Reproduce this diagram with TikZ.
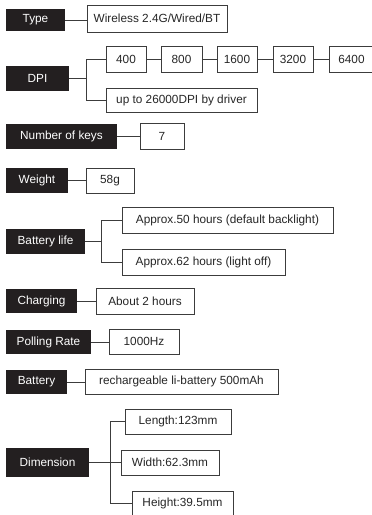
\documentclass[tikz,border=0pt]{standalone}
\usepackage{fontspec}
\setmainfont{Liberation Sans}
\usetikzlibrary{positioning,calc}
\definecolor{labelfill}{HTML}{231F20}
\definecolor{boxline}{HTML}{3C3C3C}

\begin{document}
\begin{tikzpicture}[x=1pt, y=-1pt, font=\fontsize{11.8}{13}\selectfont,
   spec/.style={fill=labelfill, text=white, inner sep=0pt, minimum height=25pt},
   val/.style={draw=boxline, line width=1pt, fill=white, text=black!85, inner sep=0pt, minimum height=25pt},
   link/.style={draw=boxline, line width=1pt}]
  \clip (0, 0) rectangle (372, 515);
  % type
  \node[spec, minimum width=59pt, minimum height=22pt] (type) at (35.5, 20) {Type};
  \node[val, minimum width=140pt, minimum height=27pt] (wls) at (157, 18.5) {Wireless 2.4G/Wired/BT};
  \draw[link] (type) -- (type -| wls.west);
  % dpi
  \node[spec, minimum width=63pt] (dpi) at (37.5, 78.5) {DPI};
  \node[val, minimum width=40pt, minimum height=26pt] (d400) at (126, 59) {400};
  \node[val, minimum width=41pt, minimum height=26pt] (d800) at (181.5, 59) {800};
  \node[val, minimum width=40pt, minimum height=26pt] (d1600) at (237, 59) {1600};
  \node[val, minimum width=40pt, minimum height=26pt] (d3200) at (293, 59) {3200};
  \node[val, minimum width=45pt, minimum height=26pt] (d6400) at (351.5, 59) {6400};
  \node[val, minimum width=151pt, minimum height=24pt] (drv) at (181.5, 100) {up to 26000DPI by driver};
  \coordinate (dpij) at (86, 78.5);
  \draw[link] (dpi) -- (dpij) |- (d400);
  \draw[link] (dpij) |- (drv);
  \draw[link] (d400) -- (d800);
  \draw[link] (d800) -- (d1600);
  \draw[link] (d1600) -- (d3200);
  \draw[link] (d3200) -- (d6400);
  % keys
  \node[spec, minimum width=111pt] (keys) at (61.5, 136.5) {Number of keys};
  \node[val, minimum width=44pt, minimum height=26pt] (seven) at (162, 136) {7};
  \draw[link] (keys) -- (keys -| seven.west);
  % weight
  \node[spec, minimum width=62pt] (weight) at (37, 180.5) {Weight};
  \node[val, minimum width=48pt] (grams) at (110, 180.5) {58g};
  \draw[link] (weight) -- (grams);
  % battery life
  \node[spec, minimum width=79pt] (life) at (45.5, 241.5) {Battery life};
  \node[val, minimum width=211pt, minimum height=26pt] (h50) at (227.5, 220) {Approx.50 hours (default backlight)};
  \node[val, minimum width=163pt, minimum height=26pt] (h62) at (203.5, 262) {Approx.62 hours (light off)};
  \coordinate (lifej) at (101, 241.5);
  \draw[link] (life) -- (lifej) |- (h50);
  \draw[link] (lifej) |- (h62);
  % charging
  \node[spec, minimum width=71pt, minimum height=24pt] (charging) at (41.5, 301) {Charging};
  \node[val, minimum width=98pt, minimum height=26pt] (hrs) at (145, 301) {About 2 hours};
  \draw[link] (charging) -- (hrs);
  % polling
  \node[spec, minimum width=85pt, minimum height=24pt] (polling) at (48.5, 342) {Polling Rate};
  \node[val, minimum width=70pt] (hz) at (144, 341.5) {1000Hz};
  \draw[link] (polling) -- (polling -| hz.west);
  % battery
  \node[spec, minimum width=61pt, minimum height=24pt] (battery) at (36.5, 382) {Battery};
  \node[val, minimum width=193pt] (cell) at (181.5, 381.5) {rechargeable li-battery 500mAh};
  \draw[link] (battery) -- (battery -| cell.west);
  % dimension
  \node[spec, minimum width=83pt, minimum height=29pt] (dim) at (47.5, 462.5) {Dimension};
  \node[val, minimum width=106pt] (len) at (178, 421.5) {Length:123mm};
  \node[val, minimum width=98pt] (wid) at (170, 462.5) {Width:62.3mm};
  \node[val, minimum width=101pt] (hgt) at (182.5, 503.5) {Height:39.5mm};
  \coordinate (dimj) at (110, 462.5);
  \draw[link] (dim) -- (wid);
  \draw[link] (dimj) |- (len);
  \draw[link] (dimj) |- (hgt);
\end{tikzpicture}
\end{document}
